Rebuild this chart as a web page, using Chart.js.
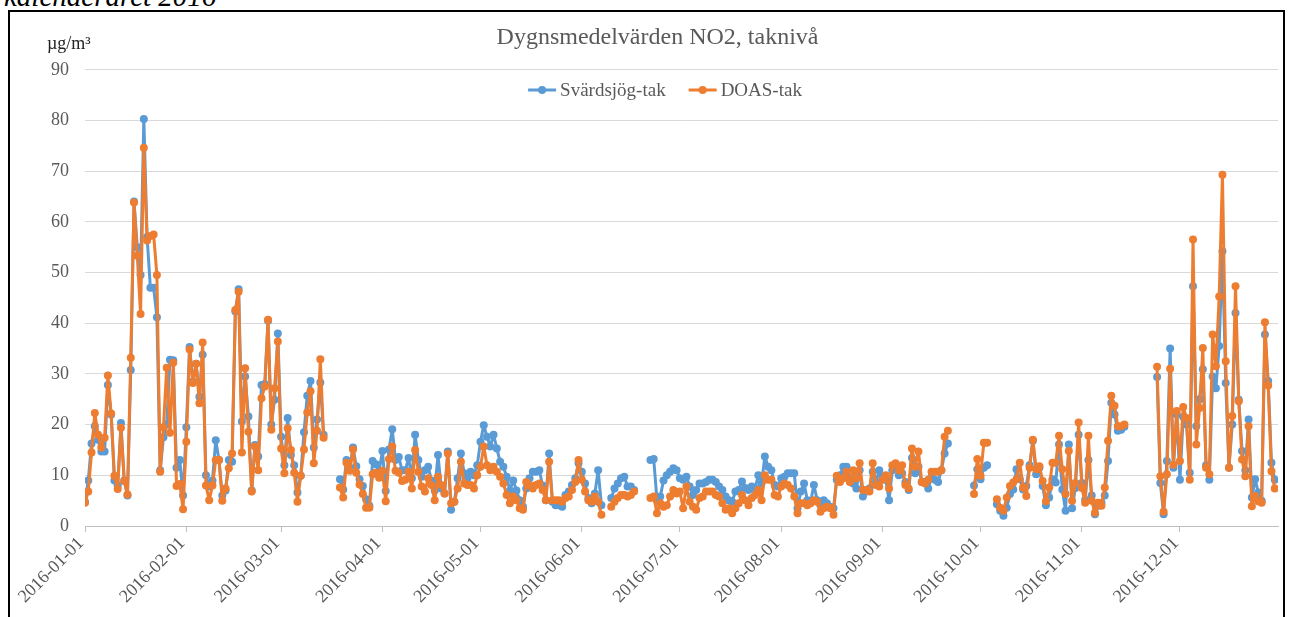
<!DOCTYPE html>
<html>
<head>
<meta charset="utf-8">
<script src="https://cdn.jsdelivr.net/npm/chart.js@4.4.0/dist/chart.umd.min.js"></script>
<style>
body { margin: 0; background: #fff; width: 1291px; height: 617px; overflow: hidden; position: relative; }
#cut { position: absolute; left: 4px; top: -19px; font: italic 29px/30px "Liberation Serif", serif; color: #000; white-space: nowrap; }
#frame { position: absolute; left: 8px; top: 10px; width: 1277px; height: 640px; border: 2px solid #000; box-sizing: border-box; }
#wrap { position: absolute; left: 10px; top: 12px; width: 1273px; height: 605px; }
</style>
</head>
<body>
<div id="cut">kalenderåret 2016</div>
<div id="frame"></div>
<div id="wrap"><canvas id="chart"></canvas></div>
<script>
const monthTicks = ['2016-01-01', '2016-02-01', '2016-03-01', '2016-04-01', '2016-05-01', '2016-06-01',
    '2016-07-01', '2016-08-01', '2016-09-01', '2016-10-01', '2016-11-01', '2016-12-01'];

// one entry per day of 2016 (null = no measurement)
const svardsjog = [
    4.8, 9, 16.3, 19.7, 17, 14.7, 14.7, 27.8, 22, 9,
    8, 20.3, 9, 6, 30.8, 64, 55, 49.5, 80.3, 57,
    47, 47, 41.2, 11, 17.5, 20, 32.8, 32.7, 11.5, 13,
    6, 19.5, 35.3, 28.5, 32, 25.5, 33.8, 10, 7.8, 9,
    16.9, 13, 6, 7, 13, 12.7, 42.3, 46.7, 20.6, 29.5,
    21.6, 7, 16, 13.7, 27.8, 28, 40.5, 20, 24.9, 38,
    17.6, 12, 21.3, 14, 12, 6.6, 9.9, 18.5, 25.7, 28.6,
    15.5, 21, 28.3, 18, null, null, null, null, 9.2, 7.2,
    13, 11.5, 15.5, 11.8, 9.2, 7.9, 5.3, 4, 12.8, 12.2,
    10.9, 14.8, 6.9, 15.1, 19.1, 13, 13.6, 11, 11, 13.4,
    9.4, 18, 13, 9.7, 11, 11.7, 9, 7, 14, 7.4,
    6.4, 14.7, 3.2, 4.8, 9.4, 14.3, 10.4, 9.4, 10.7, 10,
    12, 16.6, 19.9, 17.6, 15.7, 18, 15.3, 12.7, 11.7, 9.7,
    7, 9, 7, 5.1, 3.8, 7.4, 9.4, 10.7, 10.7, 11,
    8, 5.1, 14.3, 4.8, 4.1, 4.1, 3.8, 6.1, 6.8, 8.1,
    9.4, 12.4, 10.7, 8.4, 5.5, 4.5, 6.4, 11, 4.1, null,
    null, 5.5, 7.4, 8.4, 9.4, 9.7, 7.8, 7.8, 7.1, null,
    null, null, null, 13, 13.2, 5.1, 5.8, 9, 10, 10.7,
    11.4, 11, 9.4, 9.1, 9.7, 7.8, 6.1, 7.1, 8.4, 8.4,
    8.7, 9.1, 9.1, 8.7, 7.8, 7.1, 5.8, 5.1, 4.8, 6.8,
    7.1, 8.8, 7.5, 7.1, 7.8, 7.4, 10, 8.4, 13.7, 11.7,
    11, 8.1, 7.8, 9.4, 9.7, 10.4, 10.4, 10.4, 3.5, 6.8,
    8.4, 5.1, 4.8, 8.1, 5.1, 4.1, 5.1, 4.5, 3.8, 3.5,
    9.1, 10, 11.7, 11.7, 9.4, 8.4, 7.4, 11, 5.8, 6.8,
    7.4, 10.7, 8.7, 11, 9.7, 9.1, 5.1, 11, 12, 10,
    10.4, 8.7, 7.1, 13.4, 10.4, 11.7, 8.7, 8.7, 7.4, 9.7,
    9.1, 8.7, 11, 14.3, 16.3, null, null, null, null, null,
    null, null, 8, 11.2, 9.2, 11.5, 12, null, null, 4.3,
    3, 2, 3.6, 6.3, 7.2, 11.2, 9.2, 7.2, 7.9, 12,
    16.8, 10.2, 11.5, 7.9, 4.1, 5.6, 9.2, 8.6, 16.1, 7.2,
    3, 16.1, 3.5, 7.5, 18, 8.5, 5.2, 13, 6, 2.3,
    4, 4.6, 6, 12.8, 24.3, 22, 18.8, 19, 19.6, null,
    null, null, null, null, null, null, null, null, 29.4, 8.5,
    2.3, 12.8, 35, 11.5, 22, 9.1, 21.5, 20, 10.5, 47.3,
    19.7, 25, 30.9, 12, 9.1, 29.5, 27.2, 35.5, 54.2, 28.2,
    11.5, 20, 42, 24.9, 14.8, 11, 21, 5.6, 9.2, 6.6,
    5, 37.8, 28.6, 12.5, 9.1, null
];

const doas = [
    4.6, 6.8, 14.5, 22.3, 18, 15.5, 17.4, 29.7, 22.2, 9.9,
    7.3, 19.4, 8.9, 6.2, 33.2, 63.8, 53.3, 41.8, 74.6, 56.3,
    57.2, 57.5, 49.5, 10.7, 19.5, 31.2, 18.4, 32.2, 7.9, 8.3,
    3.3, 16.6, 34.8, 28.2, 32, 24.2, 36.2, 8, 5.1, 8,
    13, 13, 5, 7.4, 11.4, 14.3, 42.6, 46.2, 14.5, 31.1,
    18.6, 6.8, 15.7, 11, 25.2, 27.5, 40.7, 19, 27.2, 36.4,
    15.3, 10.4, 19.3, 15, 10.5, 4.8, 9.9, 15.1, 22.4, 26.6,
    12.4, 18.8, 32.9, 17.4, null, null, null, null, 7.6, 5.6,
    12.5, 10.9, 15.1, 10.5, 8.2, 6.3, 3.6, 3.6, 10.2, 10.5,
    9.5, 10.9, 4.9, 13.2, 15.7, 10.9, 10.5, 8.9, 9.1, 10.7,
    7.4, 15, 10.7, 7.8, 6.8, 9.4, 8.1, 5.1, 9.7, 8.1,
    6.4, 14.3, 4.5, 4.8, 7.4, 12.7, 8.4, 8.1, 8.1, 7.4,
    10, 11.7, 15.7, 12, 11, 11.7, 10.7, 9.7, 8.4, 6.1,
    4.5, 5.8, 5.1, 3.5, 3.2, 8.7, 8.1, 7.4, 8.1, 8.4,
    7.1, 5.1, 12.7, 5.1, 5.1, 5.1, 4.8, 5.5, 5.8, 7.1,
    8.7, 13, 9.1, 6.8, 5.1, 4.8, 5.8, 4.8, 2.2, null,
    null, 3.8, 4.8, 5.5, 6.1, 6.1, 5.8, 6.1, 6.8, null,
    null, null, null, 5.5, 5.8, 2.5, 4.5, 3.8, 4.1, 5.8,
    7.1, 6.4, 6.8, 3.5, 7.8, 4.8, 3.8, 3.2, 5.5, 5.8,
    6.8, 6.8, 6.8, 6.1, 5.8, 4.5, 3.2, 3.5, 2.5, 3.5,
    4.5, 6.1, 5.1, 4.1, 5.5, 6.1, 7.1, 5.1, 10, 9.1,
    9.1, 6.1, 5.8, 7.8, 8.4, 8.1, 7.4, 5.8, 2.5, 4.5,
    4.5, 4.1, 4.5, 5.1, 4.8, 2.8, 3.5, 3.8, 3.5, 2.2,
    9.9, 8.7, 9.4, 10.7, 8.7, 11, 9.4, 12.4, 7.1, 7.1,
    6.8, 12.4, 8.1, 7.8, 9.1, 10, 7.4, 12, 12.4, 11,
    12, 8.1, 7.4, 15.3, 11.7, 14.7, 8.7, 8.4, 9.1, 10.7,
    10.7, 10.7, 11, 17.6, 18.8, null, null, null, null, null,
    null, null, 6.3, 13.2, 9.9, 16.4, 16.4, null, null, 5.3,
    3.6, 3, 5.6, 7.9, 8.6, 9.2, 12.5, 7.6, 5.9, 11.5,
    17, 11.2, 11.8, 8.9, 4.9, 7.6, 12.5, 12.5, 17.8, 11.2,
    6.3, 14.8, 5, 8.5, 20.4, 7.5, 4.6, 17.8, 5, 2.6,
    4.6, 4, 7.6, 16.8, 25.7, 23.7, 19.7, 19.7, 20, null,
    null, null, null, null, null, null, null, null, 31.4, 9.8,
    2.8, 10.2, 31, 12.1, 22.7, 12.8, 23.5, 21.3, 9.1, 56.5,
    16.1, 23.3, 35.1, 11.5, 10.2, 37.8, 31.5, 45.3, 69.3, 32.5,
    11.5, 21.7, 47.3, 24.6, 13.1, 9.8, 19.7, 3.9, 5.9, 4.9,
    4.6, 40.2, 27.7, 10.8, 7.4, null
];

// all dates of the year, used as the x categories
const dates = [];
for (let d = new Date(Date.UTC(2016, 0, 1)); d.getUTCFullYear() === 2016; d.setUTCDate(d.getUTCDate() + 1)) {
    dates.push(d.toISOString().slice(0, 10));
}
const tickIdx = monthTicks.map(t => dates.indexOf(t));

const serif = '"Liberation Serif", "Times New Roman", serif';
const BLUE = '#5B9BD5';
const ORANGE = '#ED7D31';

// legend drawn inside the plot, like the original
const innerLegend = {
    id: 'innerLegend',
    afterDraw(chart) {
        const c = chart.ctx;
        const sets = chart.data.datasets;
        c.save();
        c.font = '19px ' + serif;
        c.textBaseline = 'middle';
        const markW = 28, gap = 4, itemGap = 23;
        const widths = sets.map(ds => markW + gap + c.measureText(ds.label).width);
        const total = widths.reduce((a, b) => a + b, 0) + itemGap * (sets.length - 1);
        let x = 655 - total / 2;
        const y = 78;
        sets.forEach((ds, i) => {
            c.strokeStyle = ds.borderColor;
            c.lineWidth = 3;
            c.beginPath();
            c.moveTo(x, y);
            c.lineTo(x + markW, y);
            c.stroke();
            c.fillStyle = ds.borderColor;
            c.beginPath();
            c.arc(x + markW / 2, y, 4, 0, Math.PI * 2);
            c.fill();
            c.fillStyle = '#595959';
            c.fillText(ds.label, x + markW + gap, y + 1);
            x += widths[i] + itemGap;
        });
        c.restore();
    }
};

const unitLabel = {
    id: 'unitLabel',
    afterDraw(chart) {
        const c = chart.ctx;
        c.save();
        c.font = '18px ' + serif;
        c.fillStyle = '#222';
        c.textBaseline = 'alphabetic';
        c.fillText('µg/m³', 37, 37);
        c.restore();
    }
};

const toPoints = arr => dates.map((d, i) => ({ x: i, y: arr[i] }));

const lineStyle = {
    borderWidth: 3,
    pointRadius: 4,
    pointBorderWidth: 0,
    borderJoinStyle: 'round',
    borderCapStyle: 'round',
    spanGaps: false
};

new Chart(document.getElementById('chart'), {
    type: 'line',
    data: {
        datasets: [{
            ...lineStyle,
            label: 'Svärdsjög-tak',
            data: toPoints(svardsjog),
            borderColor: BLUE,
            backgroundColor: BLUE,
            order: 1
        }, {
            ...lineStyle,
            label: 'DOAS-tak',
            data: toPoints(doas),
            borderColor: ORANGE,
            backgroundColor: ORANGE,
            order: 0
        }]
    },
    options: {
        responsive: true,
        maintainAspectRatio: false,
        animation: false,
        events: [],
        layout: { padding: { left: 27, right: 5, top: 0, bottom: 0 } },
        plugins: {
            title: {
                display: true,
                text: 'Dygnsmedelvärden NO2, taknivå',
                color: '#595959',
                font: { family: serif, size: 24, weight: 'normal' },
                padding: { top: 11, bottom: 18 }
            },
            legend: { display: false },
            tooltip: { enabled: false }
        },
        scales: {
            x: {
                type: 'linear',
                min: 0,
                max: 365,
                afterBuildTicks: s => { s.ticks = tickIdx.map(v => ({ value: v })); },
                afterFit: s => { s.height = 91; },
                ticks: {
                    autoSkip: false,
                    minRotation: 45,
                    maxRotation: 45,
                    labelOffset: -4,
                    color: '#595959',
                    font: { family: serif, size: 18 },
                    padding: 1,
                    callback: v => dates[v]
                },
                grid: { drawOnChartArea: false, drawTicks: true, tickLength: 6, color: '#bfbfbf' },
                border: { color: '#bfbfbf' }
            },
            y: {
                min: 0,
                max: 90,
                afterFit: s => { s.width = 48; },
                ticks: {
                    stepSize: 10,
                    color: '#595959',
                    font: { family: serif, size: 18 },
                    padding: 16
                },
                grid: { color: '#d9d9d9', drawTicks: false },
                border: { display: false }
            }
        }
    },
    plugins: [innerLegend, unitLabel]
});
</script>
</body>
</html>
